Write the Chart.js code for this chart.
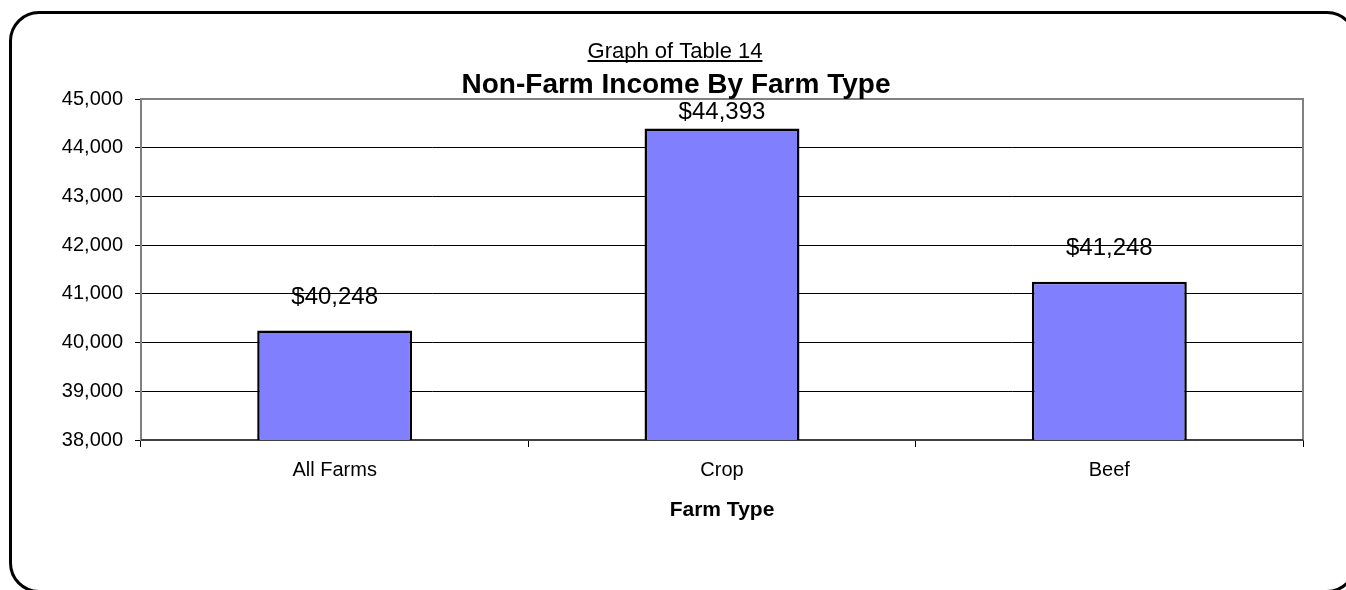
<!DOCTYPE html>
<html>
<head>
<meta charset="utf-8">
<script src="https://cdn.jsdelivr.net/npm/chart.js@4/dist/chart.umd.min.js"></script>
<style>
  body { margin: 0; background: #fff; overflow: hidden; }
  #frame {
    position: absolute; left: 9px; top: 11px;
    width: 1348px; height: 582px;
    border: 3px solid #000; border-radius: 30px;
    box-sizing: border-box;
  }
  #wrap { position: absolute; left: 0; top: 0; width: 1346px; height: 590px; }
</style>
</head>
<body>
<div id="frame"></div>
<div id="wrap"><canvas id="myChart" width="1346" height="590"></canvas></div>
<script>
const categories = ['All Farms', 'Crop', 'Beef']
const income = [40248, 44393, 41248]
const yTicks = [38000, 39000, 40000, 41000, 42000, 43000, 44000, 45000]
const titleTop = 'Graph of Table 14'
const titleMain = 'Non-Farm Income By Farm Type'
const xTitle = 'Farm Type'

const FONT = '"Liberation Sans", Arial, sans-serif'
const fmt = v => v.toLocaleString('en-US')

// titles drawn by hand so the underline and tight spacing match
const titlesPlugin = {
  id: 'titles',
  afterDraw(chart) {
    const c = chart.ctx
    c.save()
    c.fillStyle = '#000'
    c.textAlign = 'center'
    c.textBaseline = 'alphabetic'
    c.font = '22px ' + FONT
    c.fillText(titleTop, 675, 58)
    const w = c.measureText(titleTop).width
    c.fillRect(675 - w / 2, 60, w, 2)
    c.font = 'bold 28px ' + FONT
    c.fillText(titleMain, 676, 93)
    c.restore()
  }
}

// gray plot frame
const framePlugin = {
  id: 'plotFrame',
  beforeDatasetsDraw(chart) {
    const a = chart.chartArea
    const c = chart.ctx
    c.save()
    c.strokeStyle = '#808080'
    c.lineWidth = 2
    c.beginPath()
    c.moveTo(a.left, a.bottom)
    c.lineTo(a.left, a.top)
    c.lineTo(a.right, a.top)
    c.lineTo(a.right, a.bottom)
    c.stroke()
    c.strokeStyle = '#404040'
    c.beginPath()
    c.moveTo(a.left, a.bottom)
    c.lineTo(a.right, a.bottom)
    c.stroke()
    c.restore()
  }
}

const valueLabels = {
  id: 'valueLabels',
  afterDatasetsDraw(chart) {
    const c = chart.ctx
    const a = chart.chartArea
    c.save()
    c.fillStyle = '#000'
    c.font = '24px ' + FONT
    c.textAlign = 'center'
    c.textBaseline = 'middle'
    chart.getDatasetMeta(0).data.forEach((bar, i) => {
      const y = Math.max(bar.y - 33, a.top + 13)
      c.fillText('$' + fmt(income[i]), bar.x, y)
    })
    c.restore()
  }
}

const ctx = document.getElementById('myChart')
const myChart = new Chart(ctx, {
  type: 'bar',
  data: {
    labels: categories,
    datasets: [{
      data: income,
      backgroundColor: '#8080FF',
      borderColor: '#000',
      borderWidth: 2.5,
      barPercentage: 0.4,
      categoryPercentage: 1
    }]
  },
  options: {
    responsive: false,
    animation: false,
    layout: { padding: { left: 0, right: 43, top: 99, bottom: 0 } },
    plugins: {
      legend: { display: false },
      tooltip: { enabled: false }
    },
    scales: {
      x: {
        afterFit: s => { s.height = 150 },
        grid: { drawOnChartArea: false, color: '#000', tickLength: 7 },
        border: { color: '#404040', width: 2 },
        ticks: { color: '#000', padding: 11, font: { family: FONT, size: 20 } },
        title: {
          display: true, text: xTitle, color: '#000',
          font: { family: FONT, size: 21, weight: 'bold' },
          padding: { top: 10, bottom: 67 }
        }
      },
      y: {
        min: yTicks[0],
        max: yTicks[yTicks.length - 1],
        afterFit: s => { s.width = 141 },
        afterBuildTicks: s => { s.ticks = yTicks.map(v => ({ value: v })) },
        grid: { color: '#000', lineWidth: 1, tickLength: 6 },
        border: { color: '#808080', width: 2 },
        ticks: {
          color: '#000', padding: 12,
          font: { family: FONT, size: 20 },
          callback: v => fmt(v)
        }
      }
    }
  },
  plugins: [framePlugin, valueLabels, titlesPlugin]
})
</script>
</body>
</html>
